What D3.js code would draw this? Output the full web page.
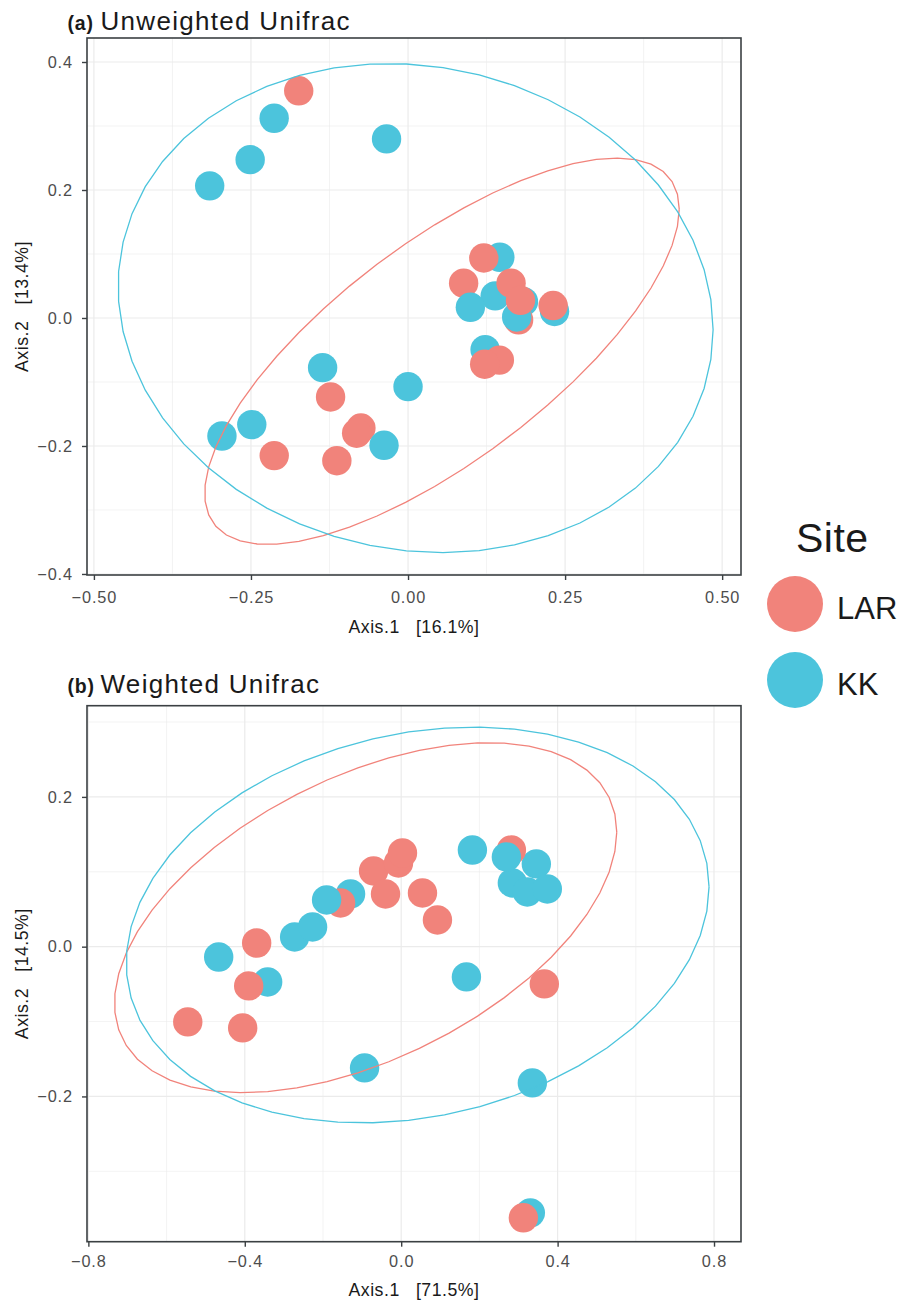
<!DOCTYPE html>
<html>
<head>
<meta charset="utf-8">
<script src="https://cdn.jsdelivr.net/npm/d3@7"></script>
<style>
  html, body { margin: 0; padding: 0; background: #ffffff; }
  svg { display: block; font-family: "Liberation Sans", Arial, Helvetica, sans-serif; }
  .pre { white-space: pre; }
</style>
</head>
<body>
<svg id="chart" width="898" height="1302"></svg>
<script>
// ---- Sites and their colours ----
const siteNames  = ["LAR", "KK"];
const siteColors = ["#F1837B", "#4CC4DC"];

// ---- (a) Unweighted UniFrac PCoA: sample scores in drawing order ----
const unwSite = [
  "KK","KK","KK","KK","KK","KK","KK","KK","KK","KK","KK","KK","KK",
  "LAR","KK","LAR","LAR","KK",
  "LAR","LAR","LAR","LAR","LAR","LAR","LAR","LAR","LAR","LAR","LAR",
  "KK"
];
const unwAxis1 = [
  -0.3157, -0.2513, -0.2131, -0.0342, 0.1461, 0.1387, 0.1837, 0.2332, 0.1227, -0.1360, 0.0000, -0.2962, -0.2487,
  0.1760, 0.1729, -0.1740, 0.0885, 0.0992,
  0.1206, 0.1640, 0.1790, 0.2310, 0.1454, 0.1220, -0.1233, -0.0750, -0.0818, -0.2130, -0.1133,
  -0.0382
];
const unwAxis2 = [
  0.2065, 0.2474, 0.3121, 0.2798, 0.0949, 0.0345, 0.0255, 0.0102, -0.0496, -0.0776, -0.1073, -0.1844, -0.1666,
  -0.0030, 0.0016, 0.3550, 0.0544, 0.0167,
  0.0938, 0.0544, 0.0275, 0.0194, -0.0658, -0.0722, -0.1234, -0.1720, -0.1800, -0.2150, -0.2230,
  -0.1989
];
// 95% ellipse per site (order of siteNames): centre and Cholesky factor [r11, r12, r22]
const unwEllipseCenter = [[0.054, -0.052], [0.012, 0.0155]];
const unwEllipseChol   = [[0.3777, 0.222, 0.2045], [0.4736, -0.0338, 0.3805]];
const unwXDomain = [-0.511, 0.530];
const unwYDomain = [-0.4016, 0.4375];
const unwXTicks  = [-0.50, -0.25, 0.00, 0.25, 0.50];
const unwXMinor  = [-0.375, -0.125, 0.125, 0.375];
const unwYTicks  = [-0.4, -0.2, 0.0, 0.2, 0.4];
const unwYMinor  = [-0.3, -0.1, 0.1, 0.3];
const unwTag = "(a)", unwTitle = "Unweighted Unifrac";
const unwXLabel = "Axis.1   [16.1%]", unwYLabel = "Axis.2   [13.4%]";

// ---- (b) Weighted UniFrac PCoA: sample scores in drawing order ----
const wSite = [
  "KK","KK","KK","KK","KK","KK","KK","KK","KK","KK","KK","KK","KK","KK",
  "LAR","LAR","LAR","LAR","LAR","LAR","LAR","LAR","LAR","LAR","LAR","LAR","LAR","LAR",
  "KK","KK"
];
const wAxis1 = [
  -0.4667, -0.3415, -0.2725, -0.2266, -0.1295, -0.0937, 0.1821, 0.3456, 0.2843, 0.3226, 0.3737, 0.1668, 0.3354, 0.3303,
  -0.3696, -0.3900, -0.1550, -0.0707, -0.0069, 0.0033, -0.0401, 0.0544, 0.0927, -0.5458, -0.4054, 0.2818, 0.3660, 0.3124,
  -0.1908, 0.2690
];
const wAxis2 = [
  -0.0138, -0.0471, 0.0130, 0.0263, 0.0704, -0.1619, 0.1291, 0.1105, 0.0851, 0.0731, 0.0771, -0.0404, -0.1819, -0.3555,
  0.0049, -0.0524, 0.0584, 0.1011, 0.1118, 0.1251, 0.0704, 0.0717, 0.0357, -0.1005, -0.1085, 0.1291, -0.0497, -0.3621,
  0.0624, 0.1198
];
const wEllipseCenter = [[-0.091, 0.0387], [0.042, 0.029]];
const wEllipseChol   = [[0.6423, 0.1143, 0.2038], [0.7453, 0.0508, 0.2594]];
const wXDomain = [-0.8035, 0.869];
const wYDomain = [-0.394, 0.3218];
const wXTicks  = [-0.8, -0.4, 0.0, 0.4, 0.8];
const wXMinor  = [-0.6, -0.2, 0.2, 0.6];
const wYTicks  = [-0.2, 0.0, 0.2];
const wYMinor  = [-0.3, -0.1, 0.1, 0.3];
const wTag = "(b)", wTitle = "Weighted Unifrac";
const wXLabel = "Axis.1   [71.5%]", wYLabel = "Axis.2   [14.5%]";

const legendTitle = "Site";

// ---- drawing ----
const svg = d3.select("#chart");
const color = d3.scaleOrdinal().domain(siteNames).range(siteColors);

const GRID = "#EBEBEB", BORDER = "#3B4043", TICKTXT = "#4D4D4D", TXT = "#1A1A1A";
const POINT_R = 14.7;

function drawPanel(cfg) {
  const g = svg.append("g");
  const x = d3.scaleLinear().domain(cfg.xDomain).range([cfg.left, cfg.right]);
  const y = d3.scaleLinear().domain(cfg.yDomain).range([cfg.bottom, cfg.top]);

  // grid: minor then major
  const grid = g.append("g");
  grid.selectAll("line.mx").data(cfg.xMinor).join("line")
    .attr("x1", d => x(d)).attr("x2", d => x(d))
    .attr("y1", cfg.top).attr("y2", cfg.bottom)
    .attr("stroke", GRID).attr("stroke-width", 0.6);
  grid.selectAll("line.my").data(cfg.yMinor).join("line")
    .attr("y1", d => y(d)).attr("y2", d => y(d))
    .attr("x1", cfg.left).attr("x2", cfg.right)
    .attr("stroke", GRID).attr("stroke-width", 0.6);
  grid.selectAll("line.Mx").data(cfg.xTicks).join("line")
    .attr("x1", d => x(d)).attr("x2", d => x(d))
    .attr("y1", cfg.top).attr("y2", cfg.bottom)
    .attr("stroke", GRID).attr("stroke-width", 1.2);
  grid.selectAll("line.My").data(cfg.yTicks).join("line")
    .attr("y1", d => y(d)).attr("y2", d => y(d))
    .attr("x1", cfg.left).attr("x2", cfg.right)
    .attr("stroke", GRID).attr("stroke-width", 1.2);

  // sample points
  const pts = cfg.site.map((s, i) => ({ site: s, a1: cfg.axis1[i], a2: cfg.axis2[i] }));
  g.append("g").selectAll("circle").data(pts).join("circle")
    .attr("cx", d => x(d.a1)).attr("cy", d => y(d.a2))
    .attr("r", POINT_R).attr("fill", d => color(d.site));

  // confidence ellipses (51-segment polygons)
  const nSeg = 51;
  const theta = d3.range(nSeg + 1).map(i => 2 * Math.PI * i / nSeg);
  const line = d3.line().x(p => x(p[0])).y(p => y(p[1]));
  siteNames.forEach((s, k) => {
    const [cx, cy] = cfg.ellCenter[k];
    const [r11, r12, r22] = cfg.ellChol[k];
    const ring = theta.map(t => [cx + r11 * Math.cos(t), cy + r12 * Math.cos(t) + r22 * Math.sin(t)]);
    g.append("path").attr("d", line(ring))
      .attr("fill", "none").attr("stroke", color(s)).attr("stroke-width", 1.3);
  });

  // panel border
  g.append("rect")
    .attr("x", cfg.left).attr("y", cfg.top)
    .attr("width", cfg.right - cfg.left).attr("height", cfg.bottom - cfg.top)
    .attr("fill", "none").attr("stroke", BORDER).attr("stroke-width", 1.6);

  // axes
  const styleAxis = sel => {
    sel.select(".domain").remove();
    sel.selectAll(".tick line").attr("stroke", BORDER).attr("stroke-width", 1.4);
    sel.selectAll(".tick text")
      .attr("fill", TICKTXT).style("font-size", "16.3px").style("letter-spacing", "0.9px")
      .style("font-family", "'Liberation Sans', Arial, sans-serif");
  };
  g.append("g").attr("transform", `translate(0,${cfg.bottom})`)
    .call(d3.axisBottom(x).tickValues(cfg.xTicks).tickFormat(d3.format(cfg.xFmt))
      .tickSize(5).tickPadding(cfg.xPad))
    .call(styleAxis);
  g.append("g").attr("transform", `translate(${cfg.left},0)`)
    .call(d3.axisLeft(y).tickValues(cfg.yTicks).tickFormat(d3.format(cfg.yFmt))
      .tickSize(5).tickPadding(9))
    .call(styleAxis);

  // axis titles
  g.append("text").attr("class", "pre")
    .attr("x", (cfg.left + cfg.right) / 2).attr("y", cfg.xLabelY)
    .attr("text-anchor", "middle").attr("fill", TXT)
    .style("font-size", "17.7px").style("letter-spacing", "0.5px")
    .text(cfg.xLabel);
  g.append("text").attr("class", "pre")
    .attr("transform", `translate(28.3,${(cfg.top + cfg.bottom) / 2}) rotate(-90)`)
    .attr("text-anchor", "middle").attr("fill", TXT)
    .style("font-size", "17.7px").style("letter-spacing", "0.5px")
    .text(cfg.yLabel);

  // title with bold tag
  g.append("text").attr("x", 67.5).attr("y", cfg.titleY)
    .attr("fill", TXT).style("font-size", "19.5px").style("font-weight", "bold")
    .style("letter-spacing", "0.8px").text(cfg.tag);
  g.append("text").attr("x", 100.5).attr("y", cfg.titleY)
    .attr("fill", TXT).style("font-size", "26px").style("letter-spacing", "1.3px")
    .text(cfg.title);
}

drawPanel({
  left: 87, right: 741, top: 38, bottom: 575,
  xDomain: unwXDomain, yDomain: unwYDomain,
  xTicks: unwXTicks, xMinor: unwXMinor, yTicks: unwYTicks, yMinor: unwYMinor,
  xFmt: ".2f", yFmt: ".1f", xPad: 11.2,
  site: unwSite, axis1: unwAxis1, axis2: unwAxis2,
  ellCenter: unwEllipseCenter, ellChol: unwEllipseChol,
  xLabel: unwXLabel, yLabel: unwYLabel, xLabelY: 633,
  tag: unwTag, title: unwTitle, titleY: 30
});

drawPanel({
  left: 87, right: 741, top: 705.7, bottom: 1241.7,
  xDomain: wXDomain, yDomain: wYDomain,
  xTicks: wXTicks, xMinor: wXMinor, yTicks: wYTicks, yMinor: wYMinor,
  xFmt: ".1f", yFmt: ".1f", xPad: 8.4,
  site: wSite, axis1: wAxis1, axis2: wAxis2,
  ellCenter: wEllipseCenter, ellChol: wEllipseChol,
  xLabel: wXLabel, yLabel: wYLabel, xLabelY: 1295.5,
  tag: wTag, title: wTitle, titleY: 693
});

// legend
const legend = svg.append("g");
legend.append("text").attr("x", 796).attr("y", 552)
  .attr("fill", TXT).style("font-size", "41px").style("letter-spacing", "0.5px")
  .text(legendTitle);
const keyY = d3.scalePoint().domain(siteNames).range([604, 680]);
legend.selectAll("circle").data(siteNames).join("circle")
  .attr("cx", 795).attr("cy", d => keyY(d)).attr("r", 28)
  .attr("fill", d => color(d));
legend.selectAll("text.key").data(siteNames).join("text").attr("class", "key")
  .attr("x", 837).attr("y", d => keyY(d) + 14.5)
  .attr("fill", TXT).style("font-size", "31px")
  .text(d => d);
</script>
</body>
</html>
